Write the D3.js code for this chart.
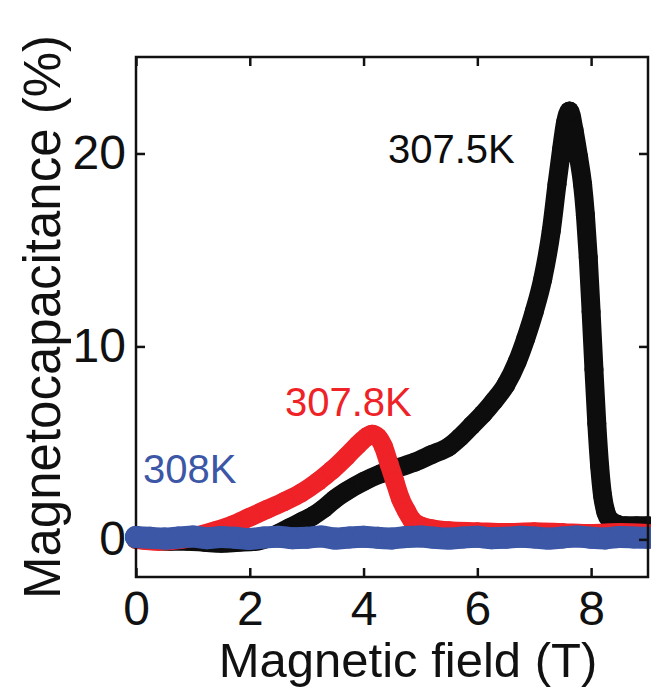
<!DOCTYPE html>
<html>
<head>
<meta charset="utf-8">
<script src="https://cdn.jsdelivr.net/npm/d3@7"></script>
<style>
  body { margin: 0; background: #fff; }
  svg { display: block; font-family: "Liberation Sans", Arial, sans-serif; }
</style>
</head>
<body>
<div id="chart"></div>
<script>
// Magnetocapacitance vs magnetic field at three temperatures

const xTicks = [0, 2, 4, 6, 8];
const yTicks = [0, 10, 20];

// 307.5K (black)
const fieldBlack = [0, 0.3, 0.6, 0.9, 1.2, 1.5, 1.8, 2.1, 2.3, 2.5, 2.7, 2.9, 3.1, 3.3, 3.5, 3.7, 4.0, 4.3, 4.6, 4.9,
  5.2, 5.5, 5.7, 5.9, 6.1, 6.3, 6.5, 6.7, 6.85, 7.0, 7.15, 7.3, 7.4, 7.48, 7.55, 7.62, 7.7, 7.78, 7.85, 7.9,
  7.95, 8.0, 8.05, 8.1, 8.15, 8.2, 8.26, 8.33, 8.45, 8.6, 8.8, 9.0];
const mcBlack = [0, -0.05, -0.1, -0.1, -0.15, -0.2, -0.15, -0.1, 0.05, 0.3, 0.6, 0.9, 1.2, 1.6, 2.1, 2.5, 3.0, 3.4, 3.7, 4.0,
  4.4, 4.8, 5.3, 5.9, 6.5, 7.2, 8.0, 9.2, 10.4, 11.8, 13.5, 16.0, 18.4, 20.2, 21.6, 22.2, 21.2, 19.8, 18.4, 16.8,
  14.6, 11.8, 8.8, 6.0, 3.8, 2.3, 1.4, 1.0, 0.8, 0.7, 0.7, 0.7];

// 307.8K (red)
const fieldRed = [0, 0.4, 0.8, 1.1, 1.4, 1.7, 2.0, 2.3, 2.6, 2.9, 3.2, 3.45, 3.7, 3.9, 4.05, 4.15, 4.25, 4.35, 4.45, 4.55,
  4.65, 4.75, 4.85, 5.0, 5.2, 5.5, 6.0, 6.5, 7.0, 7.5, 8.0, 8.5, 9.0];
const mcRed = [0, -0.1, 0, 0.2, 0.45, 0.75, 1.15, 1.55, 1.95, 2.4, 3.0, 3.6, 4.3, 4.9, 5.3, 5.45, 5.3, 4.8, 3.9, 3.0,
  2.1, 1.5, 1.0, 0.7, 0.55, 0.45, 0.4, 0.35, 0.4, 0.35, 0.3, 0.35, 0.3];

// 308K (blue)
const fieldBlue = [0, 0.25, 0.5, 0.75, 1, 1.25, 1.5, 1.75, 2, 2.25, 2.5, 2.75, 3, 3.25, 3.5, 3.75, 4, 4.25, 4.5,
  4.75, 5, 5.25, 5.5, 5.75, 6, 6.25, 6.5, 6.75, 7, 7.25, 7.5, 7.75, 8, 8.25, 8.5, 8.75, 9];
const mcBlue = [0.12, 0.08, 0.04, 0.1, 0.15, 0.06, 0.12, 0.08, 0.02, 0.1, 0.14, 0.06, 0.08, 0.15, 0.04, 0.1, 0.13, 0.08,
  0.05, 0.12, 0.15, 0.08, 0.04, 0.1, 0.13, 0.06, 0.08, 0.13, 0.1, 0.04, 0.1, 0.15, 0.08, 0.05, 0.12, 0.1, 0.08];

const series = [
  { name: '307.5K', color: '#0d0d0d', xs: fieldBlack, ys: mcBlack, r: 9.5, lx: 388, ly: 163 },
  { name: '307.8K', color: '#ee2227', xs: fieldRed, ys: mcRed, r: 9.5, lx: 285, ly: 416 },
  { name: '308K', color: '#3b57a6', xs: fieldBlue, ys: mcBlue, r: 11, lx: 143, ly: 483 }
];

const width = 651, height = 699;
const margin = { top: 57, right: 3, bottom: 122, left: 136 };

const svg = d3.select('#chart').append('svg')
  .attr('width', width)
  .attr('height', height);

const x = d3.scaleLinear().domain([0, 9]).range([margin.left, width - margin.right]);
const y = d3.scaleLinear().domain([-1.95, 25]).range([height - margin.bottom, margin.top]);

const line = d3.line()
  .x(d => x(d[0]))
  .y(d => y(d[1]))
  .curve(d3.curveMonotoneX);

// data, drawn before the frame so the frame stays visible
series.forEach(s => {
  const pts = s.xs.map((v, i) => [v, s.ys[i]]);
  const g = svg.append('g');
  g.append('path')
    .datum(pts)
    .attr('d', line)
    .attr('fill', 'none')
    .attr('stroke', s.color)
    .attr('stroke-width', s.r * 2)
    .attr('stroke-linejoin', 'round')
    .attr('stroke-linecap', 'round');
  g.selectAll('circle')
    .data(pts)
    .enter()
    .append('circle')
    .attr('cx', d => x(d[0]))
    .attr('cy', d => y(d[1]))
    .attr('r', s.r)
    .attr('fill', s.color);
});

// frame with inward ticks on all sides
const tickLen = 9;
const axStyle = sel => {
  sel.select('.domain').remove();
  sel.selectAll('line').attr('stroke', '#111').attr('stroke-width', 2.5);
};

svg.append('g')
  .attr('transform', `translate(0,${y.range()[0]})`)
  .call(d3.axisBottom(x).tickValues(xTicks).tickSize(-tickLen).tickFormat(d3.format('d')))
  .call(axStyle)
  .call(g => g.selectAll('text').attr('font-size', 48).attr('fill', '#111').attr('dy', '0.71em').attr('y', 14));

svg.append('g')
  .attr('transform', `translate(0,${y.range()[1]})`)
  .call(d3.axisTop(x).tickValues(xTicks).tickSize(-tickLen).tickFormat(''))
  .call(axStyle);

svg.append('g')
  .attr('transform', `translate(${x.range()[0]},0)`)
  .call(d3.axisLeft(y).tickValues(yTicks).tickSize(-tickLen).tickPadding(10).tickFormat(d3.format('d')))
  .call(axStyle)
  .call(g => g.selectAll('text').attr('font-size', 48).attr('fill', '#111'));

svg.append('g')
  .attr('transform', `translate(${x.range()[1]},0)`)
  .call(d3.axisRight(y).tickValues(yTicks).tickSize(-tickLen).tickFormat(''))
  .call(axStyle);

svg.append('rect')
  .attr('x', x.range()[0])
  .attr('y', y.range()[1])
  .attr('width', x.range()[1] - x.range()[0])
  .attr('height', y.range()[0] - y.range()[1])
  .attr('fill', 'none')
  .attr('stroke', '#111')
  .attr('stroke-width', 2.5);

// blue points sit over the left axis at zero
svg.append('circle')
  .attr('cx', x(fieldBlue[0]))
  .attr('cy', y(mcBlue[0]))
  .attr('r', 11)
  .attr('fill', '#3b57a6');

// series labels
series.forEach(s => {
  svg.append('text')
    .attr('x', s.lx)
    .attr('y', s.ly)
    .attr('font-size', 40)
    .attr('fill', s.color)
    .text(s.name);
});

// axis titles
svg.append('text')
  .attr('x', 408)
  .attr('y', 677)
  .attr('text-anchor', 'middle')
  .attr('font-size', 49)
  .attr('fill', '#111')
  .text('Magnetic field (T)');

svg.append('text')
  .attr('transform', `translate(60,${(y.range()[0] + y.range()[1]) / 2}) rotate(-90)`)
  .attr('text-anchor', 'middle')
  .attr('font-size', 51)
  .attr('fill', '#111')
  .text('Magnetocapacitance (%)');
</script>
</body>
</html>
